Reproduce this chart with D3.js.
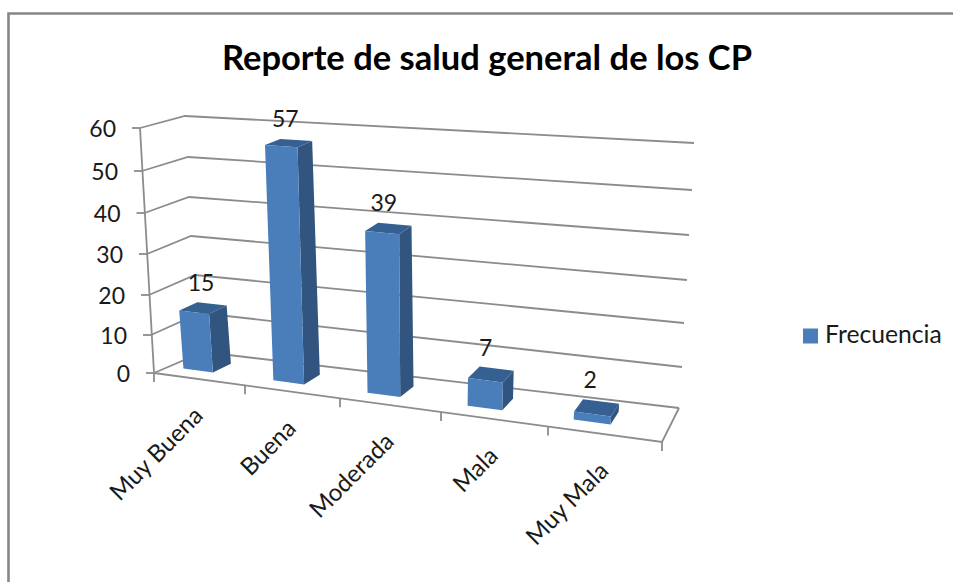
<!DOCTYPE html>
<html><head><meta charset="utf-8">
<script src="https://cdn.jsdelivr.net/npm/d3@7"></script>
<style>html,body{margin:0;padding:0;background:#fff}svg{display:block}text{font-family:Lato,"Open Sans",sans-serif;fill:#1a1a1a}</style>
</head><body><script>
const title = "Reporte de salud general de los CP";
const categories = ["Muy Buena","Buena","Moderada","Mala","Muy Mala"];
const values = [15,57,39,7,2];
const yTicks = [0,10,20,30,40,50,60];
const seriesName = "Frecuencia";

const W=953,H=582;
const svg=d3.select("body").append("svg").attr("width",W).attr("height",H);
const GRID="#8c8c8c", SW=1.8;

// projected wall edges: each is a scale from value to pixel
const lfX=d3.scaleLinear().domain(yTicks).range([154,151,149,147,144.5,142,140]);
const lfY=d3.scaleLinear().domain(yTicks).range([373,335,295,254,213,171,128]);
const lbX=d3.scaleLinear().domain(yTicks).range([203,200,195,191,189,188,185]);
const lbY=d3.scaleLinear().domain(yTicks).range([352,313,275,236,197,157,116]);
const rbX=d3.scaleLinear().domain(yTicks).range([679,682,684,687,689,692,694]);
const rbY=d3.scaleLinear().domain(yTicks).range([408,367,323,280,235,190,143]);
const FR=[662,442];
// category edges along the front floor edge
const edge=d3.scaleLinear().domain([0,1,2,3,4,5]).range([154,245,340,441,548,662]);
const tOf=c=>(edge(c)-154)/(662-154);
const lerp=(a,b,t)=>a+(b-a)*t;

function P(c,d,v){
  const t=tOf(c);
  const fx=lerp(lfX(0),FR[0],t), fy=lerp(lfY(0),FR[1],t);
  const bx=lerp(lbX(0),rbX(0),t), by=lerp(lbY(0),rbY(0),t);
  const x0=lerp(fx,bx,d), y0=lerp(fy,by,d);
  const lfo=[lfX(v)-lfX(0),lfY(v)-lfY(0)], lbo=[lbX(v)-lbX(0),lbY(v)-lbY(0)], rbo=[rbX(v)-rbX(0),rbY(v)-rbY(0)];
  const k=(lfo[1]/(lbo[1]||1))||1.04;
  const rfo=[rbo[0]*k,rbo[1]*k];
  const fo=[lerp(lfo[0],rfo[0],t),lerp(lfo[1],rfo[1],t)];
  const bo=[lerp(lbo[0],rbo[0],t),lerp(lbo[1],rbo[1],t)];
  return [x0+lerp(fo[0],bo[0],d), y0+lerp(fo[1],bo[1],d)];
}

// frame
svg.append("path").attr("d",`M8.5,${H} V13.5 H${W}`).attr("fill","none").attr("stroke","#868686").attr("stroke-width",2.6);

// gridlines
const line=d3.line();
svg.append("g").selectAll("path").data(yTicks).join("path")
 .attr("d",v=>line([[lfX(v),lfY(v)],[lbX(v),lbY(v)],[rbX(v),rbY(v)]]))
 .attr("fill","none").attr("stroke",GRID).attr("stroke-width",SW);
// floor and axes
svg.append("path").attr("d",line([[lfX(0),lfY(0)],FR,[rbX(0),rbY(0)]])).attr("fill","none").attr("stroke",GRID).attr("stroke-width",SW);
svg.append("line").attr("x1",lfX(0)).attr("y1",lfY(0)).attr("x2",lfX(60)).attr("y2",lfY(60)).attr("stroke",GRID).attr("stroke-width",SW);
svg.append("g").selectAll("line").data(yTicks).join("line")
 .attr("x1",v=>lfX(v)).attr("y1",v=>lfY(v)).attr("x2",v=>lfX(v)-8).attr("y2",v=>lfY(v))
 .attr("stroke",GRID).attr("stroke-width",SW);
svg.append("g").selectAll("line").data(d3.range(0,6)).join("line")
 .attr("x1",c=>edge(c)).attr("y1",c=>P(c,0,0)[1]).attr("x2",c=>edge(c)).attr("y2",c=>P(c,0,0)[1]+9)
 .attr("stroke",GRID).attr("stroke-width",SW);

// bars
const barStart=0.165, barWidth=0.33, barD0=0.3, barD1=0.69;
const poly=p=>"M"+p.map(q=>q.join(",")).join("L")+"Z";
const bars=svg.append("g").selectAll("g").data(values).join("g");
bars.each(function(v,i){
  const g=d3.select(this), a=i+barStart, b=a+barWidth;
  g.append("path").attr("fill","#31557f").attr("d",poly([P(b,barD0,0),P(b,barD1,0),P(b,barD1,v),P(b,barD0,v)]));
  g.append("path").attr("fill","#366092").attr("d",poly([P(a,barD0,v),P(b,barD0,v),P(b,barD1,v),P(a,barD1,v)]));
  g.append("path").attr("fill","#4a7ebb").attr("d",poly([P(a,barD0,0),P(b,barD0,0),P(b,barD0,v),P(a,barD0,v)]));
  const top=P((a+b)/2,barD1,v);
  g.append("text").attr("x",top[0]-11).attr("y",top[1]-13).attr("text-anchor","middle").attr("font-size",23).text(v);
});

// y tick labels
svg.append("g").selectAll("text").data(yTicks).join("text")
 .attr("x",v=>lfX(v)-24).attr("y",v=>lfY(v)+9).attr("text-anchor","end").attr("font-size",23).text(d=>d);

// category labels
svg.append("g").selectAll("text").data(categories).join("text")
 .attr("transform",(d,i)=>`translate(${edge(i+0.5)+5},${P(i+0.5,0,0)[1]+38}) rotate(-45)`)
 .attr("text-anchor","end").attr("font-size",24).text(d=>d);

// title
svg.append("text").attr("x",487).attr("y",70).attr("text-anchor","middle").attr("font-size",34.5).attr("font-weight",700).style("fill","#000").text(title);

// legend
svg.append("rect").attr("x",803).attr("y",328.5).attr("width",15).attr("height",15).attr("fill","#4a7ebb");
svg.append("text").attr("x",825).attr("y",343).attr("font-size",24.7).text(seriesName);
</script></body></html>
